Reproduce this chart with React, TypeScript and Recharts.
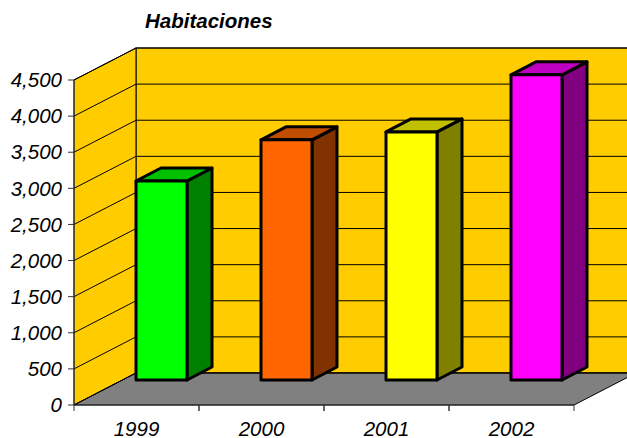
import { Bar, BarChart, CartesianGrid, XAxis, YAxis } from "recharts";

const years = ["1999", "2000", "2001", "2002"];
const habitaciones = [2755, 3325, 3435, 4225];
const yTicks = [0, 500, 1000, 1500, 2000, 2500, 3000, 3500, 4000, 4500];

const faceColors = ["#00ff00", "#ff6600", "#ffff00", "#ff00ff"];
const topColors = ["#00c000", "#c04d00", "#c0c000", "#c000c0"];
const sideColors = ["#008000", "#803300", "#808000", "#800080"];

const chartData = years.map((year, i) => ({ year, habitaciones: habitaciones[i] }));

// plot box of the front plane, the rest of the fake 3d hangs off it
const LEFT = 74;
const TOP = 80;
const PLOT_W = 500;
const PLOT_H = 325;
const BOTTOM = TOP + PLOT_H;
const RIGHT = LEFT + PLOT_W;
const SLOT = PLOT_W / years.length;

const WALL_DX = 62;
const WALL_DY = 32;
const BAR_DX = 25;
const BAR_DY = 25;
const DEPTH_DX = 25;
const DEPTH_DY = 13;

const FONT = "'Liberation Sans', Arial, sans-serif";

// walls sit in their own svg behind the chart, recharts paints its grid under anything customized
function Walls() {
  const backL = LEFT + WALL_DX;
  const backR = RIGHT + WALL_DX;
  const backT = TOP - WALL_DY;
  const backB = BOTTOM - WALL_DY;
  return (
    <svg width={627} height={438} style={{ position: "absolute", left: 0, top: 0 }}>
      <text x={145} y={28} fontFamily={FONT} fontSize={20.5} fontWeight="bold" fontStyle="italic" fill="#000">
        Habitaciones
      </text>
      <rect x={backL} y={backT} width={PLOT_W} height={PLOT_H} fill="#ffcc00" stroke="#000" />
      <polygon
        points={`${LEFT},${TOP} ${backL},${backT} ${backL},${backB} ${LEFT},${BOTTOM}`}
        fill="#ffcc00"
        stroke="#000"
      />
      <polygon
        points={`${LEFT},${BOTTOM} ${RIGHT},${BOTTOM} ${backR},${backB} ${backL},${backB}`}
        fill="#808080"
        stroke="#000"
      />
    </svg>
  );
}

function GridLine({ x1, y1, x2, y2 }: any) {
  return (
    <g stroke="#000" strokeWidth={1}>
      <line x1={x1} y1={y1} x2={x1 + WALL_DX} y2={y1 - WALL_DY} />
      <line x1={x1 + WALL_DX} y1={y1 - WALL_DY} x2={x2 + WALL_DX} y2={y2 - WALL_DY} />
    </g>
  );
}

function Bar3D({ x, y, width, height, index }: any) {
  const l = x + BAR_DX;
  const r = l + width;
  const t = y - BAR_DY;
  const b = t + height;
  const stroke = { stroke: "#000", strokeWidth: 3, strokeLinejoin: "round" as const };
  return (
    <g>
      <polygon
        points={`${r},${t} ${r + DEPTH_DX},${t - DEPTH_DY} ${r + DEPTH_DX},${b - DEPTH_DY} ${r},${b}`}
        fill={sideColors[index]}
        {...stroke}
      />
      <polygon
        points={`${l},${t} ${l + DEPTH_DX},${t - DEPTH_DY} ${r + DEPTH_DX},${t - DEPTH_DY} ${r},${t}`}
        fill={topColors[index]}
        {...stroke}
      />
      <rect x={l} y={t} width={width} height={height} fill={faceColors[index]} {...stroke} />
    </g>
  );
}

function YearTick({ x, payload }: any) {
  return (
    <g>
      <line x1={x - SLOT / 2} y1={BOTTOM} x2={x - SLOT / 2} y2={BOTTOM + 6} stroke="#333" />
      <line x1={x + SLOT / 2} y1={BOTTOM} x2={x + SLOT / 2} y2={BOTTOM + 6} stroke="#333" />
      <text x={x} y={436} textAnchor="middle" fontFamily={FONT} fontSize={20.5} fontStyle="italic" fill="#000">
        {payload.value}
      </text>
    </g>
  );
}

export default function App() {
  return (
    <div style={{ position: "absolute", left: 0, top: 0, width: 627, height: 438, background: "#fff" }}>
      <Walls />
      <BarChart
        width={627}
        height={438}
        data={chartData}
        margin={{ top: TOP, right: 627 - RIGHT, left: 0, bottom: 0 }}
        barSize={51}
      >
        <CartesianGrid horizontal={(props: any) => <GridLine key={props.key} {...props} />} vertical={false} />
        <XAxis
          dataKey="year"
          height={438 - BOTTOM}
          interval={0}
          tickLine={false}
          axisLine={{ stroke: "#333" }}
          tick={(props: any) => <YearTick {...props} />}
        />
        <YAxis
          width={LEFT}
          domain={[0, 4500]}
          ticks={yTicks}
          interval={0}
          tickSize={6}
          tickMargin={6}
          axisLine={{ stroke: "#333" }}
          tickLine={{ stroke: "#333" }}
          tick={{ fill: "#000", fontSize: 20.5, fontStyle: "italic", fontFamily: FONT }}
          tickFormatter={(v: number) => v.toLocaleString("en-US")}
        />
        <Bar dataKey="habitaciones" shape={(props: any) => <Bar3D {...props} />} isAnimationActive={false} />
      </BarChart>
    </div>
  );
}
